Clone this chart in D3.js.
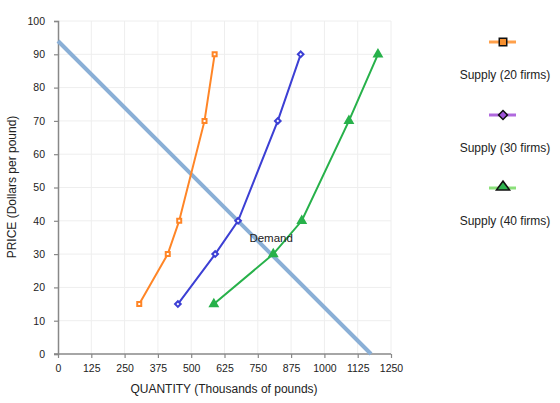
<!DOCTYPE html>
<html>
<head>
<meta charset="utf-8">
<script src="https://cdn.jsdelivr.net/npm/d3@7"></script>
<style>
  body { margin: 0; background: #fff; }
  text { font-family: "Liberation Sans", Arial, sans-serif; fill: #222; }
</style>
</head>
<body>
<svg id="chart" width="560" height="403"></svg>
<script>
// values
var xTicks = [0, 125, 250, 375, 500, 625, 750, 875, 1000, 1125, 1250];
var yTicks = [0, 10, 20, 30, 40, 50, 60, 70, 80, 90, 100];
var demand = [[0, 94], [1175, 0]];
var supply20 = [[305, 15], [412, 30], [455, 40], [550, 70], [588, 90]];
var supply30 = [[450, 15], [590, 30], [676, 40], [825, 70], [911, 90]];
var supply40 = [[585, 15], [808, 30], [915, 40], [1092, 70], [1201, 90]];
var seriesNames = ["Supply (20 firms)", "Supply (30 firms)", "Supply (40 firms)"];

var svg = d3.select("#chart");
var x = d3.scaleLinear().domain([0, 1250]).range([58, 391]);
var y = d3.scaleLinear().domain([0, 100]).range([354, 21]);

// grid
svg.append("g").selectAll("line.gx").data(xTicks.slice(1)).enter().append("line")
  .attr("x1", function(d){ return x(d) }).attr("x2", function(d){ return x(d) })
  .attr("y1", y(100)).attr("y2", y(0))
  .style("stroke", "#eeeeee").style("stroke-width", 1);
svg.append("g").selectAll("line.gy").data(yTicks.slice(1)).enter().append("line")
  .attr("x1", x(0)).attr("x2", x(1250))
  .attr("y1", function(d){ return y(d) }).attr("y2", function(d){ return y(d) })
  .style("stroke", "#eeeeee").style("stroke-width", 1);

// axes
var xAxis = svg.append("g").attr("transform", "translate(0," + y(0) + ")")
  .call(d3.axisBottom(x).tickValues(xTicks).tickFormat(d3.format("d")).tickSize(4).tickPadding(7));
var yAxis = svg.append("g").attr("transform", "translate(" + x(0) + ",0)")
  .call(d3.axisLeft(y).tickValues(yTicks).tickFormat(d3.format("d")).tickSize(4).tickPadding(9));
[xAxis, yAxis].forEach(function(a){
  a.select(".domain").style("stroke", "#888").style("stroke-width", 1.5);
  a.selectAll(".tick line").style("stroke", "#888").style("stroke-width", 1.2);
  a.selectAll(".tick text").style("font-size", "10.5px").style("font-family", "Liberation Sans, Arial, sans-serif").attr("fill", "#222");
});
xAxis.select(".domain").attr("d", "M" + (x(0) - 4) + ",0H" + x(1250));

svg.append("text").attr("x", 224).attr("y", 393).attr("text-anchor", "middle")
  .style("font-size", "12px").text("QUANTITY (Thousands of pounds)");
svg.append("text").attr("transform", "translate(16,187) rotate(-90)").attr("text-anchor", "middle")
  .style("font-size", "12px").text("PRICE (Dollars per pound)");

var line = d3.line().x(function(d){ return x(d[0]) }).y(function(d){ return y(d[1]) });

// demand
svg.append("path").datum(demand).attr("d", line)
  .style("fill", "none").style("stroke", "#8aafd6").style("stroke-width", 4);

// supply curves; diamond = square turned 45deg
function drawSupply(data, color, kind){
  svg.append("path").datum(data).attr("d", line)
    .style("fill", "none").style("stroke", color).style("stroke-width", 2);
  var shape = kind === "triangle" ? d3.symbolTriangle : d3.symbolSquare;
  svg.append("g").selectAll("path").data(data).enter().append("path")
    .attr("transform", function(d){
      return "translate(" + x(d[0]) + "," + y(d[1]) + ")" + (kind === "diamond" ? " rotate(45)" : "") })
    .attr("d", d3.symbol().type(shape).size(kind === "triangle" ? 24 : 16))
    .style("fill", kind === "triangle" ? color : "#fff")
    .style("stroke", color).style("stroke-width", 2);
}
drawSupply(supply20, "#ff8526", "square");
drawSupply(supply30, "#3c3fd4", "diamond");
drawSupply(supply40, "#27b14a", "triangle");

svg.append("text").attr("x", x(800)).attr("y", y(33.5)).attr("text-anchor", "middle")
  .style("font-size", "11.5px").text("Demand");

// legend
var legendColors = [["#ffa04a", "#f7902f"], ["#b069de", "#9f55d8"], ["#8be07a", "#2fb34f"]];
var legendShapes = [d3.symbolSquare, d3.symbolSquare, d3.symbolTriangle];
var lg = svg.append("g").selectAll("g").data(seriesNames).enter().append("g")
  .attr("transform", function(d, i){ return "translate(503," + (42 + i * 73) + ")" });
lg.append("line").attr("x1", -14).attr("x2", 13).attr("y1", 0).attr("y2", 0)
  .style("stroke", function(d, i){ return legendColors[i][0] }).style("stroke-width", 3);
lg.append("path")
  .attr("d", function(d, i){ return d3.symbol().type(legendShapes[i]).size(i === 2 ? 56 : (i === 1 ? 40 : 56))() })
  .attr("transform", function(d, i){ return i === 2 ? "translate(0,-1) scale(1.15,0.9)" : (i === 1 ? "rotate(45)" : null) })
  .style("fill", function(d, i){ return legendColors[i][1] })
  .style("stroke", "#111").style("stroke-width", 1.5);
lg.append("text").attr("x", 2).attr("y", 37).attr("text-anchor", "middle")
  .style("font-size", "12px").text(function(d){ return d });
</script>
</body>
</html>
